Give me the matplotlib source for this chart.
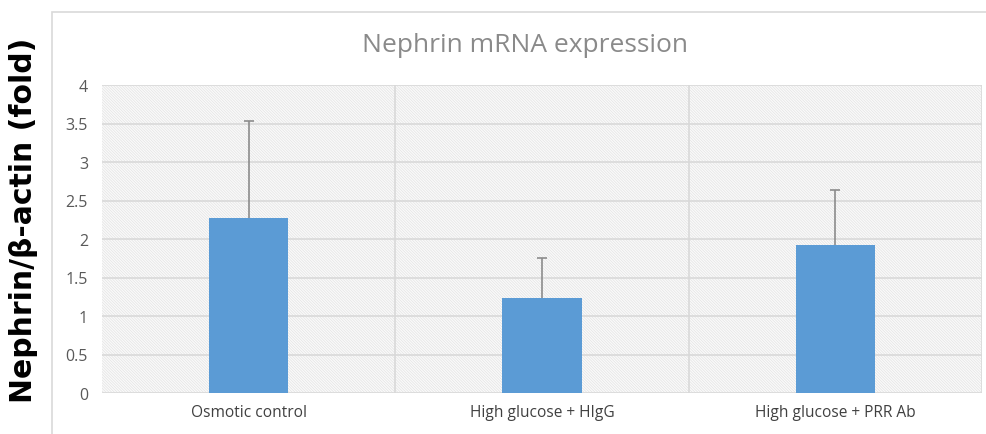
import matplotlib
matplotlib.use("Agg")
import matplotlib.pyplot as plt
from matplotlib.patches import Rectangle
import numpy as np

categories = ["Osmotic control", "High glucose + HIgG", "High glucose + PRR Ab"]
values = [2.27, 1.23, 1.92]
errors = [1.26, 0.52, 0.72]
yticks = [0, 0.5, 1, 1.5, 2, 2.5, 3, 3.5, 4]
ytick_labels = ["0", "0.5", "1", "1.5", "2", "2.5", "3", "3.5", "4"]

plt.rcParams["hatch.linewidth"] = 0.5

W, H = 986, 435
fig = plt.figure(figsize=(W / 100, H / 100), dpi=100)

# chart frame
fig.patches.append(Rectangle((52 / W, -0.05), 1.0, 1 - 13 / H + 0.05,
                             transform=fig.transFigure, fill=False,
                             edgecolor="#d9d9d9", linewidth=1.2))

left, right, top, bottom = 102, 982, 86, 394
ax = fig.add_axes([left / W, 1 - bottom / H, (right - left) / W, (bottom - top) / H])

x = np.arange(len(categories))
vals = np.array(values)
errs = np.array(errors)
ax.set_xlim(-0.5, len(categories) - 0.5)
ax.set_ylim(0, 4)

# hatched background
ax.add_patch(Rectangle((-0.5, 0), len(categories), 4, facecolor="#fafafa",
                       edgecolor="#e3e3e3", hatch="\\" * 12, linewidth=0, zorder=0))

for yv in yticks:
    ax.axhline(yv, color="#d9d9d9", linewidth=1.2, zorder=1)
for xv in [0.5, 1.5, 2.5]:
    ax.axvline(xv, color="#d9d9d9", linewidth=1.2, zorder=1)

ax.vlines(x, vals, vals + errs, color="#8c8c8c", linewidth=1.2, zorder=2)
ax.plot(x, vals + errs, linestyle="none", marker="_", markersize=7,
        markeredgewidth=1.2, color="#8c8c8c", zorder=2)
ax.bar(x, vals, width=0.27, color="#5b9bd5", zorder=3)

for s in ax.spines.values():
    s.set_visible(False)
ax.set_xticks(x)
ax.set_xticklabels(categories, fontsize=11.2, color="#404040", family="Open Sans")
ax.set_yticks(yticks)
ax.set_yticklabels(ytick_labels, fontsize=11.5, color="#595959", family="Open Sans")
ax.tick_params(length=0, pad=10)
ax.tick_params(axis="x", pad=8)

fig.text(525 / W, 1 - 46 / H, "Nephrin mRNA expression", ha="center", va="center",
         fontsize=19, color="#8a8a8a", family="Open Sans")
fig.text(24 / W, 1 - 220 / H, "Nephrin/β-actin (fold)", ha="center", va="center",
         rotation=90, fontsize=21.5, fontweight="bold", color="black", family="DejaVu Sans")

fig.savefig("out.png", dpi=100)
